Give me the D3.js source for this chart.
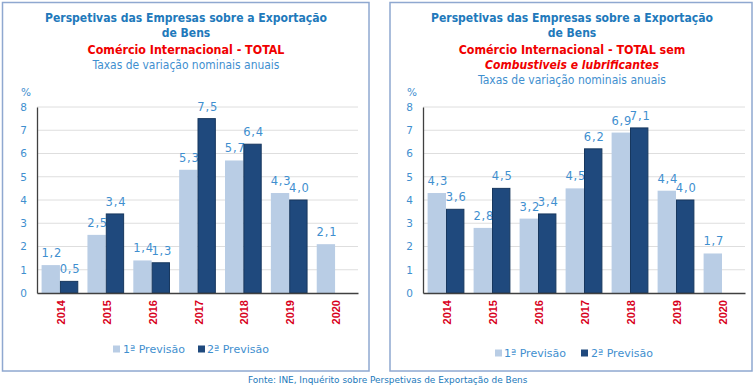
<!DOCTYPE html>
<html><head><meta charset="utf-8">
<script src="https://cdn.jsdelivr.net/npm/d3@7"></script>
<style>
html,body{margin:0;padding:0;background:#fff;}
svg{display:block;}
</style></head>
<body>
<svg id="c" width="756" height="388"></svg>
<script>
// ---- DATA ----
const years = ["2014","2015","2016","2017","2018","2019","2020"];
const seriesNames = ["1ª Previsão","2ª Previsão"];
const totalPrev1 = [1.2, 2.5, 1.4, 5.3, 5.7, 4.3, 2.1];
const totalPrev2 = [0.5, 3.4, 1.3, 7.5, 6.4, 4.0, null];
const semCombPrev1 = [4.3, 2.8, 3.2, 4.5, 6.9, 4.4, 1.7];
const semCombPrev2 = [3.6, 4.5, 3.4, 6.2, 7.1, 4.0, null];
const yTickValues = [0,1,2,3,4,5,6,7,8];
const titleMain = ["Perspetivas das Empresas sobre a Exportação", "de Bens"];
const titleLeftRed = ["Comércio Internacional  - TOTAL"];
const titleRightRed = ["Comércio Internacional  - TOTAL sem"];
const titleRightItalic = "Combustiveis e lubrificantes";
const subtitle = "Taxas de variação nominais anuais";
const unitLabel = "%";
const footer = "Fonte: INE, Inquérito sobre Perspetivas de Exportação de Bens";

// ---- STYLE ----
const C = {
  title: "#2179bb", light: "#3f8fcf", red: "#f00000", year: "#d8001c",
  bar1: "#b9cde5", bar2: "#1f497d", bar2s: "#17375e", grid: "#dedede",
  axis: "#404040", border: "#8fa8d0"
};
const FONT = "'DejaVu Sans Condensed','DejaVu Sans',sans-serif";
const FONTN = "'DejaVu Sans',sans-serif";

const svg = d3.select("#c");

function fit(sel, w){
  const node = sel.node();
  const fs = parseFloat(sel.attr("font-size"));
  const len = node.getComputedTextLength();
  if (len>0) sel.attr("font-size", (fs*w/len).toFixed(2));
  return sel;
}
function text(g, x, y, s, opts){
  const t = g.append("text").attr("x",x).attr("y",y).text(s)
    .attr("font-family", opts.family||FONT)
    .attr("font-size", opts.size||12)
    .attr("font-weight", opts.weight||"normal")
    .attr("font-style", opts.style||"normal")
    .attr("fill", opts.fill||"#000")
    .attr("text-anchor", opts.anchor||"middle")
    .attr("dominant-baseline", "central");
  if (opts.w) fit(t, opts.w);
  return t;
}

function panel(cfg){
  const g = svg.append("g");
  g.append("rect").attr("x",cfg.x0).attr("y",cfg.y0)
    .attr("width",cfg.x1-cfg.x0).attr("height",cfg.y1-cfg.y0)
    .attr("fill","#fff").attr("stroke",C.border).attr("stroke-width",1.5);
  // titles
  cfg.titles.forEach(t => text(g, cfg.cx, t.y, t.s, t.o));

  const x = d3.scaleBand().domain(years).range([cfg.pl, cfg.pr]).paddingInner(0.2).paddingOuter(0.1);
  const xs = d3.scaleBand().domain([0,1]).range([0, x.bandwidth()]);
  const y = d3.scaleLinear().domain([0,8]).range([cfg.pb, cfg.pt]);

  // grid
  g.append("g").selectAll("line").data(yTickValues.slice(1)).join("line")
    .attr("x1",cfg.pl).attr("x2",cfg.pr).attr("y1",d=>y(d)).attr("y2",d=>y(d))
    .attr("stroke",C.grid).attr("stroke-width",1);

  // y axis labels via d3 axis
  const ya = g.append("g").attr("transform",`translate(${cfg.pl},0)`)
    .call(d3.axisLeft(y).tickValues(yTickValues).tickSize(0).tickPadding(10).tickFormat(d3.format("d")));
  ya.select(".domain").attr("stroke",C.axis).attr("stroke-width",1.3);
  ya.selectAll("text").attr("fill",C.light).attr("font-family",FONTN).attr("font-size",10.5);

  text(g, cfg.pl-11, 92, unitLabel, {size:10.5, fill:C.light, family:FONTN});

  const rows = years.map((yr,i)=>({yr, v:[cfg.s1[i], cfg.s2[i]]}));
  const grp = g.append("g").selectAll("g").data(rows).join("g")
    .attr("transform", d=>`translate(${x(d.yr)},0)`);
  const cells = grp.selectAll("g").data(d=>d.v.map((v,k)=>({v,k})).filter(e=>e.v!=null)).join("g");
  cells.append("rect")
    .attr("x", d=>xs(d.k)+ (d.k===0?0:0.5)).attr("width", d=>xs.bandwidth()-(d.k===0?0:1))
    .attr("y", d=>y(d.v)).attr("height", d=>y(0)-y(d.v))
    .attr("fill", d=>d.k===0?C.bar1:C.bar2)
    .attr("stroke", d=>d.k===0?"none":C.bar2s).attr("stroke-width",1);
  cells.append("text")
    .attr("x", d=>xs(d.k)+xs.bandwidth()/2 + 1)
    .attr("y", d=>y(d.v)-12)
    .attr("text-anchor","middle").attr("dominant-baseline","central")
    .attr("font-family",FONTN).attr("font-size",11.5).attr("letter-spacing",0.8).attr("fill",C.light)
    .text(d=>d3.format(".1f")(d.v).replace(".",","));

  // x axis
  const xa = g.append("g").attr("transform",`translate(0,${cfg.pb})`)
    .call(d3.axisBottom(x).tickSize(0).tickFormat(""));
  xa.select(".domain").attr("stroke",C.axis).attr("stroke-width",1.3);
  g.append("g").selectAll("text").data(years).join("text")
    .attr("transform", d=>`translate(${x(d)+x.bandwidth()/2+1},${cfg.pb+7}) rotate(-90)`)
    .attr("text-anchor","end").attr("dominant-baseline","central")
    .attr("font-family","'Liberation Sans',Arial,sans-serif").attr("font-weight","bold")
    .attr("font-size",11).attr("fill",C.year).text(d=>d);

  // legend
  const L = cfg.legend;
  [0,1].forEach(k=>{
    g.append("rect").attr("x",L.sq[k]).attr("y",L.y-3.5).attr("width",7).attr("height",7)
      .attr("fill",k===0?C.bar1:C.bar2);
    text(g, L.tx[k], L.y, seriesNames[k], {size:12, fill:C.light, anchor:"start", family:FONTN, w:L.w});
  });
}

panel({
  x0:2.5, y0:2.5, x1:369, y1:371, cx:186, pl:37, pr:358, pt:107, pb:293,
  s1: totalPrev1, s2: totalPrev2,
  titles: [
    {y:18, s:titleMain[0], o:{weight:"bold", fill:C.title, size:13, w:282}},
    {y:33, s:titleMain[1], o:{weight:"bold", fill:C.title, size:13}},
    {y:50, s:titleLeftRed[0], o:{weight:"bold", fill:C.red, size:13, w:197}},
    {y:65, s:subtitle, o:{fill:C.light, size:13, w:187}}
  ],
  legend:{y:349, sq:[113,198], tx:[123,207], w:62}
});
panel({
  x0:390, y0:2.5, x1:752, y1:371, cx:572, pl:423, pr:745, pt:107, pb:293,
  s1: semCombPrev1, s2: semCombPrev2,
  titles: [
    {y:18, s:titleMain[0], o:{weight:"bold", fill:C.title, size:13, w:282}},
    {y:33, s:titleMain[1], o:{weight:"bold", fill:C.title, size:13}},
    {y:50, s:titleRightRed[0], o:{weight:"bold", fill:C.red, size:13, w:227}},
    {y:65, s:titleRightItalic, o:{weight:"bold", style:"italic", fill:C.red, size:13, w:174}},
    {y:80, s:subtitle, o:{fill:C.light, size:13, w:188}}
  ],
  legend:{y:353, sq:[495,581], tx:[504,591], w:62}
});
// match "de Bens" size to first title line
svg.selectAll("g > text").filter(function(){return d3.select(this).text()==="de Bens";})
  .each(function(){
    const first = d3.select(this.parentNode).selectAll("text").filter(function(){return d3.select(this).text()===titleMain[0];});
    d3.select(this).attr("font-size", first.attr("font-size"));
  });

text(svg, 248, 380, footer, {size:10, fill:C.title, anchor:"start", family:FONTN, w:280});
</script>
</body></html>
